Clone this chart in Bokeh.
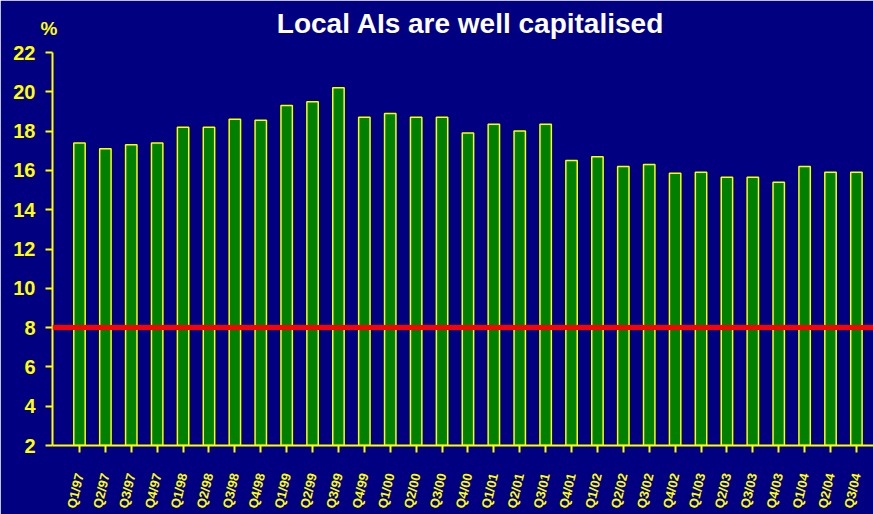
from bokeh.plotting import figure
from bokeh.models import Range1d, FixedTicker, Span, Label, ColumnDataSource
from bokeh.embed import file_html
from bokeh.resources import INLINE

quarters = ["Q1/97", "Q2/97", "Q3/97", "Q4/97", "Q1/98", "Q2/98", "Q3/98", "Q4/98",
            "Q1/99", "Q2/99", "Q3/99", "Q4/99", "Q1/00", "Q2/00", "Q3/00", "Q4/00",
            "Q1/01", "Q2/01", "Q3/01", "Q4/01", "Q1/02", "Q2/02", "Q3/02", "Q4/02",
            "Q1/03", "Q2/03", "Q3/03", "Q4/03", "Q1/04", "Q2/04", "Q3/04"]
car = [17.4, 17.1, 17.3, 17.4, 18.2, 18.2, 18.6, 18.55,
       19.3, 19.5, 20.2, 18.7, 18.9, 18.7, 18.7, 17.9,
       18.35, 18.0, 18.35, 16.5, 16.7, 16.2, 16.3, 15.85,
       15.9, 15.65, 15.65, 15.4, 16.2, 15.9, 15.9]
y_ticks = [2, 4, 6, 8, 10, 12, 14, 16, 18, 20, 22]
minimum_ratio = 8
title_text = "Local AIs are well capitalised"
unit_text = "%"

NAVY = "#000080"
YELLOW = "#FFFF00"
FONT = "Liberation Sans"

idx = list(range(len(quarters)))
src = ColumnDataSource(dict(x=idx, top=car, q=quarters))

p = figure(width=873, height=514, output_backend="svg", toolbar_location=None,
           x_range=Range1d(-1.042, 30.66), y_range=Range1d(2, 22))
p.background_fill_color = NAVY
p.border_fill_color = NAVY
p.outline_line_color = NAVY
p.outline_line_width = 2
p.min_border_left = 52
p.min_border_right = 0
p.min_border_top = 52
p.min_border_bottom = 68
p.grid.visible = False

p.vbar(x="x", top="top", bottom=0, width=0.44, source=src,
       fill_color="#008000", line_color=YELLOW, line_width=1.5)

p.add_layout(Span(location=minimum_ratio, dimension="width",
                  line_color="#FF0000", line_width=5))

for ax in (p.xaxis[0], p.yaxis[0]):
    ax.axis_line_color = YELLOW
    ax.axis_line_width = 2
    ax.major_tick_line_color = YELLOW
    ax.major_tick_line_width = 2
    ax.major_tick_in = 0
    ax.major_tick_out = 7
    ax.minor_tick_line_color = None
    ax.major_label_text_color = YELLOW
    ax.major_label_text_font = FONT
    ax.major_label_text_font_style = "bold"

p.yaxis[0].ticker = FixedTicker(ticks=y_ticks)
p.yaxis[0].major_label_text_font_size = "20px"
p.yaxis[0].major_label_standoff = 10

p.xaxis[0].ticker = FixedTicker(ticks=idx)
p.xaxis[0].major_label_overrides = {i: q for i, q in zip(idx, quarters)}
p.xaxis[0].major_label_orientation = 1.34
p.xaxis[0].major_label_text_font_size = "13px"
p.xaxis[0].major_label_standoff = 21

p.add_layout(Label(x=15.1, y=23.46, text=title_text, text_color="white",
                   text_font=FONT, text_font_style="bold", text_font_size="28px",
                   text_align="center", text_baseline="alphabetic"), "above")
p.add_layout(Label(x=-1.178, y=23.22, text=unit_text, text_color=YELLOW,
                   text_font=FONT, text_font_style="bold", text_font_size="19px",
                   text_align="center", text_baseline="alphabetic"), "above")

open("out.html", "w").write(file_html(p, INLINE))
